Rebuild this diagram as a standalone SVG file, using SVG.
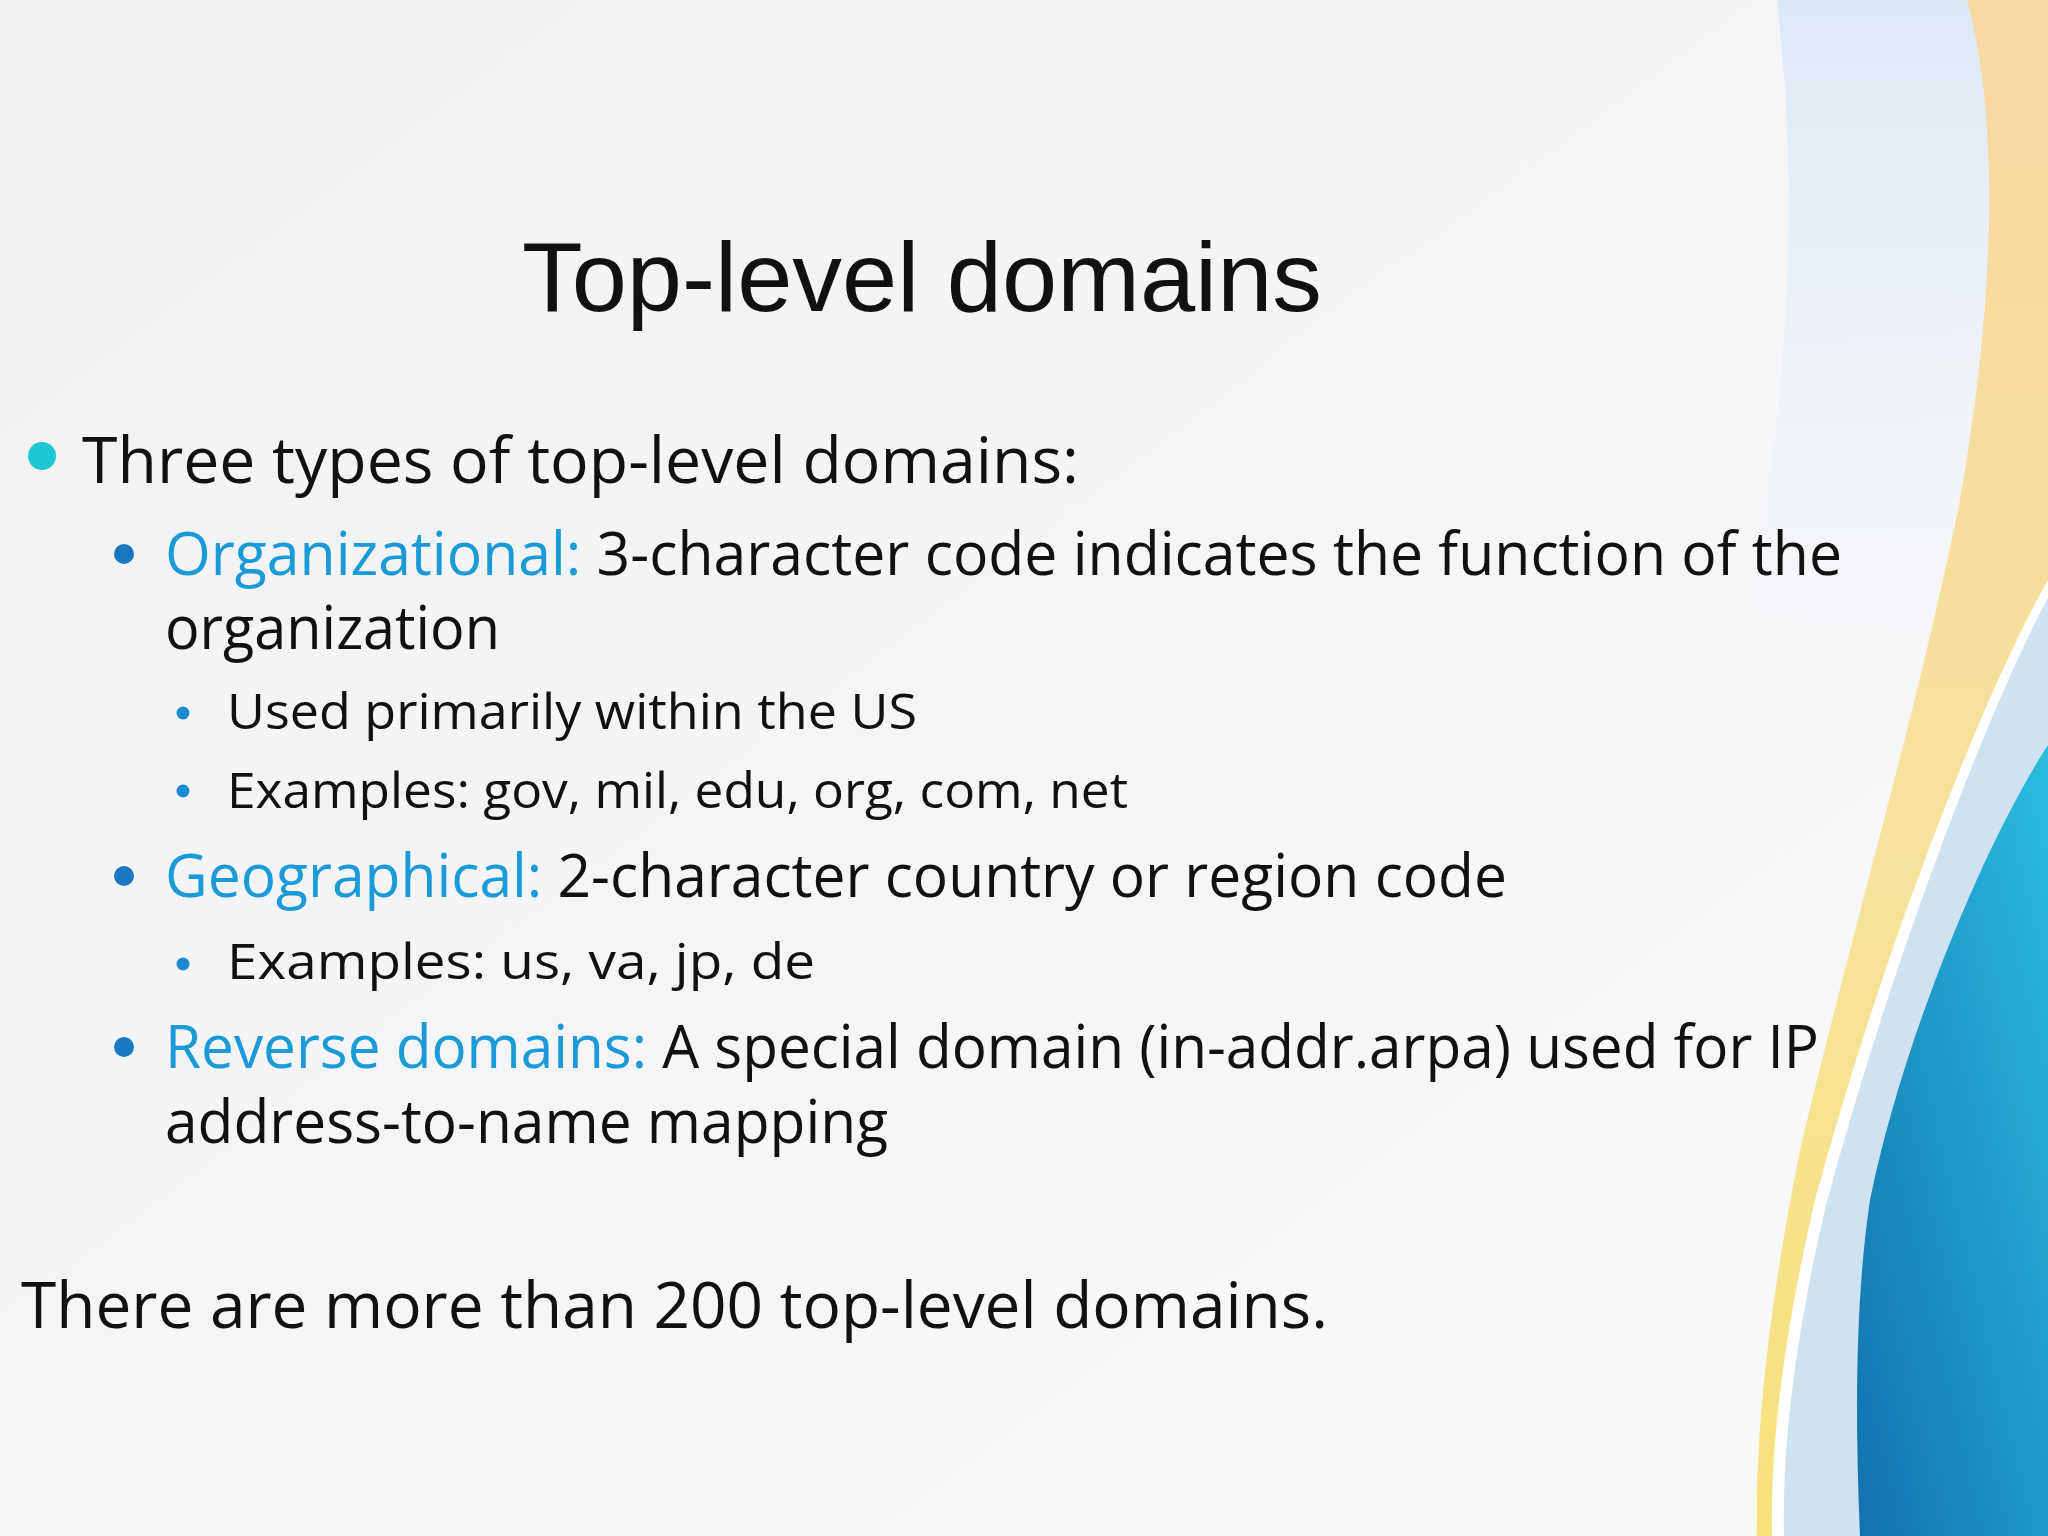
<svg xmlns="http://www.w3.org/2000/svg" width="2048" height="1536" viewBox="0 0 2048 1536">
<defs>
<linearGradient id="bg" x1="0" y1="0" x2="1" y2="1"><stop offset="0" stop-color="#f1f2f4"/><stop offset="1" stop-color="#f9f9fa"/></linearGradient>
<linearGradient id="gold" x1="0" y1="0" x2="0" y2="1"><stop offset="0" stop-color="#f8d7a4"/><stop offset="0.6" stop-color="#f6e39a"/><stop offset="1" stop-color="#f7e27a"/></linearGradient>
<linearGradient id="blue" x1="0" y1="1" x2="1" y2="0"><stop offset="0" stop-color="#1272ae"/><stop offset="1" stop-color="#2bbde0"/></linearGradient>
<linearGradient id="wash" x1="0" y1="0" x2="0" y2="1"><stop offset="0" stop-color="#dbe9f6"/><stop offset="1" stop-color="#f4f6f9" stop-opacity="0"/></linearGradient>
<style>
.t{font-family:"Open Sans","Noto Sans",sans-serif;fill:#111}
.h{fill:#1a9ad6}
.l1{font-size:64px}.l2{font-size:60px}.l3{font-size:50px}
</style>
</defs>
<rect width="2048" height="1536" fill="url(#bg)"/>
<path d="M1777,0 C1800,200 1790,400 1740,650 C1720,760 1760,800 1900,700 L2048,600 L2048,0 Z" fill="url(#wash)"/>
<path d="M1967,0 C2000,120 1995,300 1960,500 C1920,700 1860,900 1800,1150 C1770,1300 1755,1430 1757,1536 L2048,1536 L2048,0 Z" fill="url(#gold)"/>
<path d="M2048,580 C1980,700 1880,960 1815,1200 C1785,1330 1770,1440 1772,1536 L2048,1536 Z" fill="#ffffff"/>
<path d="M2048,598 C1985,715 1890,968 1826,1205 C1796,1335 1782,1440 1784,1536 L2048,1536 Z" fill="#cfe2f1"/>
<path d="M2048,745 C1980,850 1900,1050 1870,1200 C1855,1300 1855,1420 1860,1536 L2048,1536 Z" fill="url(#blue)"/>
<g id="title"><text x="522" y="311" font-family="Liberation Sans,Arial,sans-serif" font-size="98" fill="#111" textLength="800" lengthAdjust="spacingAndGlyphs">Top-level domains</text></g>
<g id="body">
<circle cx="42" cy="456" r="14" fill="#1fc6d4"/>
<text class="t l1" x="82" y="483" textLength="997" lengthAdjust="spacingAndGlyphs">Three types of top-level domains:</text>
<circle cx="124" cy="554" r="10" fill="#1a78c2"/>
<text class="t l2" x="165" y="575" textLength="1677" lengthAdjust="spacingAndGlyphs"><tspan class="h">Organizational:</tspan> 3-character code indicates the function of the</text>
<text class="t l2" x="165" y="649" textLength="335" lengthAdjust="spacingAndGlyphs">organization</text>
<circle cx="183" cy="713" r="6.5" fill="#1a8bd0"/>
<text class="t l3" x="227" y="729" textLength="690" lengthAdjust="spacingAndGlyphs">Used primarily within the US</text>
<circle cx="183" cy="791" r="6.5" fill="#1a8bd0"/>
<text class="t l3" x="227" y="808" textLength="901" lengthAdjust="spacingAndGlyphs">Examples: gov, mil, edu, org, com, net</text>
<circle cx="124" cy="876" r="10" fill="#1a78c2"/>
<text class="t l2" x="165" y="897" textLength="1342" lengthAdjust="spacingAndGlyphs"><tspan class="h">Geographical:</tspan> 2-character country or region code</text>
<circle cx="183" cy="964" r="6.5" fill="#1a8bd0"/>
<text class="t l3" x="227" y="979" textLength="588" lengthAdjust="spacingAndGlyphs">Examples: us, va, jp, de</text>
<circle cx="124" cy="1047" r="10" fill="#1a78c2"/>
<text class="t l2" x="165" y="1068" textLength="1654" lengthAdjust="spacingAndGlyphs"><tspan class="h">Reverse domains:</tspan> A special domain (in-addr.arpa) used for IP</text>
<text class="t l2" x="165" y="1143" textLength="723" lengthAdjust="spacingAndGlyphs">address-to-name mapping</text>
<text class="t l1" x="21" y="1328" textLength="1307" lengthAdjust="spacingAndGlyphs">There are more than 200 top-level domains.</text>
</g>
</svg>
